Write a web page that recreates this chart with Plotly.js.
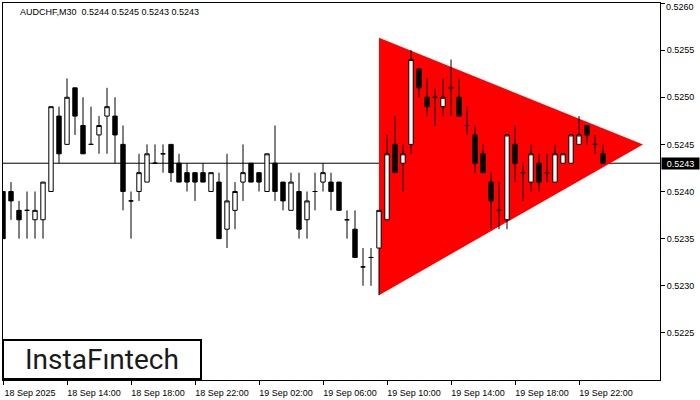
<!DOCTYPE html>
<html>
<head>
<meta charset="utf-8">
<script src="https://cdn.plot.ly/plotly-3.0.1.min.js"></script>
<style>
  html, body { margin: 0; padding: 0; background: #fff; }
  #chart { width: 700px; height: 400px; }
</style>
</head>
<body>
<div id="chart"></div>
<script>
// ---- data ----
var symbol = "AUDCHF";
var timeframe = "M30";
var barIndex = [];
var opens  = [0.5240,0.5240,0.5238,0.5238,0.5237,0.5237,0.5240,0.5248,0.5245,0.5251,
              0.5247,0.5245,0.5246,0.5248,0.5248,0.5245,0.5239,0.5240,0.5241,0.5243,
              0.5244,0.5245,0.5243,0.5242,0.5242,0.5242,0.5240,0.5241,0.5236,0.5238,
              0.5241,0.5243,0.5242,0.5240,0.5243,0.5241,0.5238,0.5240,0.5237,0.5240,
              0.5241,0.5241,0.5241,0.5237,0.5236,0.5232,0.5233,0.5234,0.5237,0.5245,
              0.5243,0.5245,0.5253,0.5250,0.5250,0.5249,0.5251,0.5250,0.5247,0.5246,
              0.5244,0.5241,0.5238,0.5237,0.5245,0.5242,0.5241,0.5243,0.5242,0.5241,
              0.5243,0.5243,0.5245,0.5247,0.5245,0.5244];
var highs  = [0.5240,0.5241,0.5239,0.5240,0.5240,0.5241,0.5249,0.5249,0.5252,0.5251,
              0.5250,0.5249,0.5248,0.5251,0.5250,0.5247,0.5240,0.5244,0.5245,0.5245,
              0.5245,0.5245,0.5244,0.5243,0.5242,0.5243,0.5242,0.5242,0.5244,0.5241,
              0.5245,0.5243,0.5242,0.5244,0.5247,0.5241,0.5242,0.5242,0.5240,0.5242,
              0.5243,0.5242,0.5241,0.5238,0.5238,0.5234,0.5234,0.5238,0.5246,0.5248,
              0.5245,0.5255,0.5253,0.5252,0.5251,0.5252,0.5254,0.5252,0.5249,0.5247,
              0.5245,0.5242,0.5241,0.5246,0.5247,0.5243,0.5245,0.5244,0.5244,0.5245,
              0.5244,0.5246,0.5248,0.5247,0.5246,0.5245];
var lows   = [0.5235,0.5237,0.5235,0.5235,0.5235,0.5235,0.5240,0.5243,0.5245,0.5246,
              0.5244,0.5245,0.5244,0.5244,0.5243,0.5238,0.5235,0.5239,0.5241,0.5243,
              0.5242,0.5241,0.5241,0.5240,0.5239,0.5241,0.5240,0.5235,0.5234,0.5236,
              0.5239,0.5241,0.5240,0.5240,0.5239,0.5238,0.5238,0.5235,0.5235,0.5238,
              0.5240,0.5238,0.5238,0.5235,0.5233,0.5230,0.5230,0.5229,0.5237,0.5242,
              0.5240,0.5244,0.5250,0.5248,0.5247,0.5248,0.5248,0.5248,0.5246,0.5242,
              0.5242,0.5236,0.5236,0.5236,0.5241,0.5239,0.5240,0.5240,0.5241,0.5241,
              0.5243,0.5243,0.5245,0.5245,0.5244,0.5243];
var closes = [0.5235,0.5239,0.5237,0.5238,0.5238,0.5241,0.5249,0.5244,0.5250,0.5248,
              0.5244,0.5245,0.5247,0.5249,0.5246,0.5240,0.5239,0.5242,0.5244,0.5243,
              0.5244,0.5242,0.5241,0.5241,0.5241,0.5241,0.5242,0.5235,0.5239,0.5240,
              0.5242,0.5241,0.5241,0.5244,0.5240,0.5239,0.5241,0.5236,0.5239,0.5240,
              0.5242,0.5240,0.5238,0.5237,0.5233,0.5232,0.5233,0.5238,0.5244,0.5242,
              0.5244,0.5254,0.5251,0.5249,0.5250,0.5250,0.5251,0.5248,0.5247,0.5243,
              0.5242,0.5239,0.5238,0.5246,0.5243,0.5242,0.5244,0.5241,0.5242,0.5244,
              0.5244,0.5246,0.5246,0.5246,0.5245,0.5243];
for (var i = 0; i < opens.length; i++) barIndex.push(i);

var timeTickPos    = [0, 8, 16, 24, 32, 40, 48, 56, 64, 72];
var timeTickLabels = ["18 Sep 2025","18 Sep 14:00","18 Sep 18:00","18 Sep 22:00","19 Sep 02:00",
                      "19 Sep 06:00","19 Sep 10:00","19 Sep 14:00","19 Sep 18:00","19 Sep 22:00"];
var priceTicks = [0.5225,0.5230,0.5235,0.5240,0.5245,0.5250,0.5255,0.5260];

// bearish triangle pattern (bar index, price)
var triX = [47, 47, 80];
var triY = [0.52563, 0.52290, 0.52450];

// ---- build ----
var n = closes.length;
var lastO = opens[n-1], lastH = highs[n-1], lastL = lows[n-1], lastC = closes[n-1];
var topTick = priceTicks[priceTicks.length - 1];

var triPath = "M" + triX[0] + "," + triY[0] + " L" + triX[1] + "," + triY[1] +
              " L" + triX[2] + "," + triY[2] + " Z";

var FONT = "Liberation Sans, Arial, sans-serif";

var candles = {
  type: "candlestick",
  x: barIndex, open: opens, high: highs, low: lows, close: closes,
  increasing: { line: { color: "#000000", width: 1 }, fillcolor: "#ffffff" },
  decreasing: { line: { color: "#000000", width: 1 }, fillcolor: "#000000" },
  whiskerwidth: 0,
  hoverinfo: "skip",
  showlegend: false
};

var layout = {
  width: 700, height: 400,
  margin: { l: 3, r: 40, t: 3, b: 20, pad: 0 },
  paper_bgcolor: "#ffffff", plot_bgcolor: "#ffffff",
  showlegend: false,
  boxgap: 0.45, boxgroupgap: 0,
  font: { family: FONT, size: 9, color: "#000000" },
  xaxis: {
    range: [0, 82.125],
    rangeslider: { visible: false },
    showgrid: false, zeroline: false,
    showline: true, mirror: true, linecolor: "#000000", linewidth: 1,
    tickmode: "array", tickvals: timeTickPos, ticktext: timeTickLabels,
    ticks: "outside", ticklen: 4, tickcolor: "#000000", tickwidth: 1,
    ticklabelshift: 27, ticklabelstandoff: 0,
    tickfont: { family: FONT, size: 9, color: "#000000" },
    fixedrange: true
  },
  yaxis: {
    side: "right",
    range: [0.5220, 0.5260],
    showgrid: false, zeroline: false,
    showline: true, mirror: true, linecolor: "#000000", linewidth: 1,
    tickmode: "array", tickvals: priceTicks,
    ticktext: priceTicks.map(function (v) { return v === topTick ? "" : v.toFixed(4); }),
    ticks: "outside", ticklen: 4, tickcolor: "#000000", tickwidth: 1,
    tickfont: { family: FONT, size: 9, color: "#000000" },
    fixedrange: true
  },
  shapes: [
    { type: "path", xref: "x", yref: "y", path: triPath,
      fillcolor: "#ff0000", line: { width: 0 }, layer: "below" },
    { type: "line", xref: "paper", yref: "y", x0: 0, x1: 1, y0: lastC, y1: lastC,
      line: { color: "#000000", width: 1 }, layer: "below" },
    { type: "rect", xref: "paper", yref: "paper",
      x0: 0, x1: 198/657, y0: 1/377, y1: 40/377,
      fillcolor: "#ffffff", line: { color: "#000000", width: 2 }, layer: "above" }
  ],
  annotations: [
    { xref: "paper", yref: "paper", x: 15/657, y: (380-12)/377,
      xanchor: "left", yanchor: "middle", showarrow: false,
      text: symbol + "," + timeframe + "\u00a0\u00a0" + lastO.toFixed(4) + " " + lastH.toFixed(4) +
            " " + lastL.toFixed(4) + " " + lastC.toFixed(4),
      font: { family: FONT, size: 9, color: "#000000" } },
    { xref: "paper", yref: "y", x: 1, y: topTick, xanchor: "left", yanchor: "top",
      xshift: 4, yshift: 3, showarrow: false, text: topTick.toFixed(4),
      font: { family: FONT, size: 9, color: "#000000" } },
    { xref: "paper", yref: "y", x: 1, y: lastC, xanchor: "left", yanchor: "middle",
      xshift: 1, showarrow: false, text: lastC.toFixed(4),
      bgcolor: "#000000", borderpad: 1, width: 35, height: 9,
      font: { family: FONT, size: 9, color: "#ffffff" } },
    { xref: "paper", yref: "paper", x: 98.5/657, y: (380-359)/377,
      xanchor: "center", yanchor: "middle", showarrow: false,
      text: "InstaF\u0131ntech",
      font: { family: "Roboto, Liberation Sans, sans-serif", size: 28, color: "#1a1a1a" } }
  ]
};

Plotly.newPlot("chart", [candles], layout, { displayModeBar: false, staticPlot: true });
</script>
</body>
</html>
